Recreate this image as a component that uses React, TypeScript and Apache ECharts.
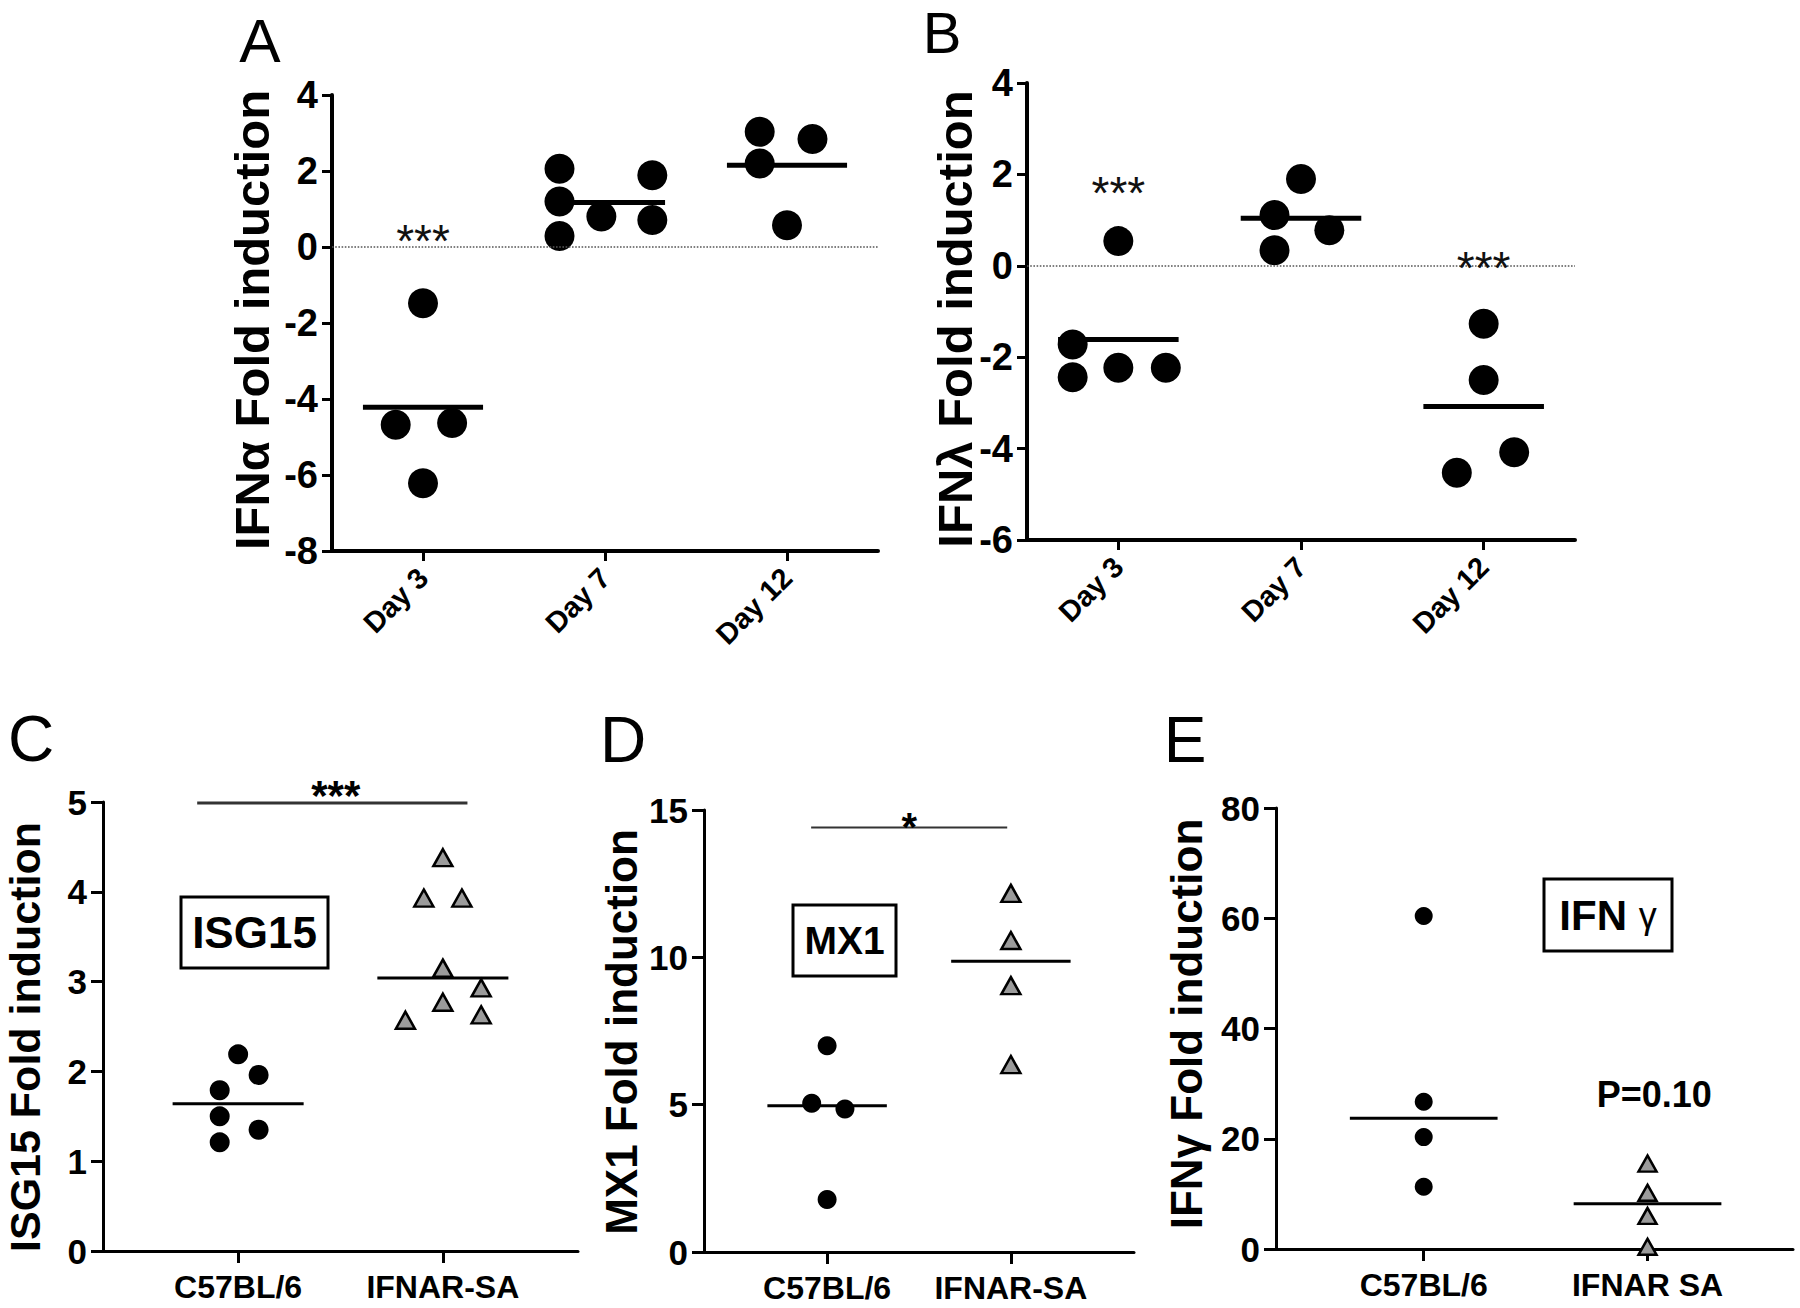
import React, { useEffect, useRef } from 'react';
import * as echarts from 'echarts';

// ---------- data ----------
const dayCategories = ['Day 3', 'Day 7', 'Day 12'];
const mouseGroups = ['C57BL/6', 'IFNAR-SA'];
const mouseGroupsE = ['C57BL/6', 'IFNAR SA'];

// Panel A: IFNα fold induction per day (points + horizontal jitter + mean line)
const ifnaValues = [
  [-1.48, -4.68, -4.63, -6.22],
  [2.06, 1.2, 0.29, 0.8, 1.89, 0.71],
  [3.03, 2.2, 2.84, 0.57],
];
const ifnaJitter = [
  [0, -0.15, 0.16, 0],
  [-0.25, -0.25, -0.25, -0.02, 0.26, 0.26],
  [-0.15, -0.15, 0.14, 0],
];
const ifnaMeans = [-4.22, 1.17, 2.15];
const ifnaStars = [[0, 0.43]];

// Panel B: IFNλ fold induction
const ifnlValues = [
  [0.54, -1.72, -2.44, -2.23, -2.23],
  [1.9, 1.11, 0.34, 0.78],
  [-1.27, -2.5, -4.08, -4.53],
];
const ifnlJitter = [
  [0, -0.25, -0.25, 0, 0.26],
  [0, -0.145, -0.145, 0.155],
  [0, 0, 0.167, -0.147],
];
const ifnlMeans = [-1.61, 1.04, -3.08];
const ifnlStars = [[0, 1.81], [2, 0.18]];

// Panel C: ISG15
const isg15Values = [
  [2.19, 1.96, 1.79, 1.5, 1.35, 1.21],
  [4.38, 3.93, 3.93, 3.15, 2.93, 2.77, 2.57, 2.63],
];
const isg15Jitter = [
  [0, 0.1, -0.09, -0.09, 0.1, -0.09],
  [0, -0.093, 0.093, 0, 0.187, 0, -0.183, 0.187],
];
const isg15Medians = [1.64, 3.04];
const isg15Bracket = [[-0.2, 1.12, 4.99]];
const isg15Stars = [[0.477, 5.18]];

// Panel D: MX1
const mx1Values = [
  [7.0, 5.05, 4.85, 1.78],
  [12.17, 10.57, 9.04, 6.36],
];
const mx1Jitter = [
  [0, -0.084, 0.097, 0],
  [0, 0, 0, 0],
];
const mx1Medians = [4.96, 9.87];
const mx1Bracket = [[-0.087, 0.98, 14.41]];
const mx1Stars = [[0.447, 14.74]];

// Panel E: IFNγ
const ifngValues = [
  [60.4, 26.7, 20.3, 11.3],
  [15.5, 10.2, 6.0, 0.4],
];
const ifngJitter = [
  [0, 0, 0, 0],
  [0, 0, 0, 0],
];
const ifngMedians = [23.7, 8.2];
const ifngPValue = [[1.03, 28.0]];

// ---------- helpers ----------
const FONT = '"Liberation Sans", Arial, Helvetica, sans-serif';

function toPoints(values: number[][], jitter: number[][]) {
  const out: number[][] = [];
  values.forEach((grp, i) => grp.forEach((v, j) => out.push([i + jitter[i][j], v])));
  return out;
}

function scatterSeries(gi: number, data: number[][], symbol: string, size: any, tri: boolean, extra: any = {}) {
  return {
    type: 'scatter',
    xAxisIndex: gi,
    yAxisIndex: gi,
    silent: true,
    z: 3,
    data,
    symbol,
    symbolSize: size,
    itemStyle: tri
      ? { color: '#9b9b9b', borderColor: '#000', borderWidth: 2.5, opacity: 1 }
      : { color: '#000', opacity: 1 },
    ...extra,
  };
}

function meanLineSeries(gi: number, means: number[], half: number, width: number) {
  return {
    type: 'custom',
    xAxisIndex: gi,
    yAxisIndex: gi,
    silent: true,
    z: 5,
    data: means.map((m, i) => [i, m]),
    encode: { x: 0, y: 1 },
    renderItem: (params: any, api: any) => {
      const x = api.value(0);
      const y = api.value(1);
      const a = api.coord([x - half, y]);
      const b = api.coord([x + half, y]);
      return {
        type: 'line',
        shape: { x1: a[0], y1: a[1], x2: b[0], y2: b[1] },
        style: { stroke: '#000', lineWidth: width },
      };
    },
  };
}

function bracketSeries(gi: number, rows: number[][], width: number) {
  return {
    type: 'custom',
    xAxisIndex: gi,
    yAxisIndex: gi,
    silent: true,
    z: 5,
    data: rows,
    encode: { x: [0, 1], y: 2 },
    renderItem: (params: any, api: any) => {
      const a = api.coord([api.value(0), api.value(2)]);
      const b = api.coord([api.value(1), api.value(2)]);
      return {
        type: 'line',
        shape: { x1: a[0], y1: a[1], x2: b[0], y2: b[1] },
        style: { stroke: '#333', lineWidth: width },
      };
    },
  };
}

function textSeries(gi: number, rows: number[][], text: string, font: string, dy: number, color = '#111') {
  return {
    type: 'custom',
    xAxisIndex: gi,
    yAxisIndex: gi,
    silent: true,
    z: 6,
    data: rows,
    encode: { x: 0, y: 1 },
    renderItem: (params: any, api: any) => {
      const p = api.coord([api.value(0), api.value(1)]);
      return {
        type: 'text',
        x: p[0],
        y: p[1] + dy,
        style: {
          text,
          font,
          fill: color,
          align: 'center',
          verticalAlign: 'middle',
          textAlign: 'center',
          textVerticalAlign: 'middle',
        },
      };
    },
  };
}

function xAxisDef(gi: number, min: number, max: number, labels: string[], big: boolean) {
  const vals = labels.map((_, i) => i);
  return {
    gridIndex: gi,
    type: 'value',
    min,
    max,
    splitLine: { show: false },
    axisLine: { show: true, onZero: false, lineStyle: { color: '#000', width: big ? 4 : 3 } },
    axisTick: {
      show: true,
      customValues: vals,
      length: big ? 10 : 12,
      lineStyle: { color: '#000', width: 3 },
    },
    axisLabel: {
      show: true,
      customValues: vals,
      formatter: (v: number) => labels[Math.round(v)] ?? '',
      rotate: big ? 45 : 0,
      fontSize: big ? 29 : 32,
      fontWeight: 'bold',
      fontFamily: FONT,
      color: '#000',
      margin: big ? 22 : 20,
    },
  };
}

function yAxisDef(gi: number, min: number, max: number, interval: number, big: boolean) {
  return {
    gridIndex: gi,
    type: 'value',
    min,
    max,
    interval,
    splitLine: { show: false },
    axisLine: { show: true, onZero: false, lineStyle: { color: '#000', width: big ? 4 : 3 } },
    axisTick: { show: true, length: big ? 10 : 12, lineStyle: { color: '#000', width: 3 } },
    axisLabel: {
      fontSize: big ? 38 : 35,
      fontWeight: 'bold',
      fontFamily: FONT,
      color: '#000',
      margin: big ? 14 : 16,
    },
  };
}

function rotTitle(x: number, y: number, text: string, size: number) {
  return {
    type: 'text',
    x,
    y,
    rotation: Math.PI / 2,
    silent: true,
    style: {
      text,
      font: `bold ${size}px ${FONT}`,
      fill: '#000',
      align: 'center',
      verticalAlign: 'middle',
      textAlign: 'center',
      textVerticalAlign: 'middle',
    },
  };
}

function letter(x: number, y: number, text: string, size: number) {
  return {
    type: 'text',
    x,
    y,
    silent: true,
    style: {
      text,
      font: `${size}px ${FONT}`,
      fill: '#000',
      align: 'center',
      verticalAlign: 'middle',
      textAlign: 'center',
      textVerticalAlign: 'middle',
    },
  };
}

function boxLabel(x: number, y: number, w: number, h: number, text: string, font: string, rich?: any) {
  return [
    {
      type: 'rect',
      silent: true,
      shape: { x, y, width: w, height: h },
      style: { fill: '#fff', stroke: '#000', lineWidth: 3 },
    },
    {
      type: 'text',
      silent: true,
      x: x + w / 2,
      y: y + h / 2,
      style: {
        text,
        font,
        fill: '#000',
        rich,
        align: 'center',
        verticalAlign: 'middle',
        textAlign: 'center',
        textVerticalAlign: 'middle',
      },
    },
  ];
}

export default function App() {
  const ref = useRef<HTMLDivElement>(null);

  useEffect(() => {
    if (!ref.current) return;
    const chart = echarts.init(ref.current, undefined, { renderer: 'svg' });

    const zeroLine = {
      silent: true,
      symbol: 'none',
      label: { show: false },
      lineStyle: { type: 'dotted', color: '#555', width: 1.6 },
      data: [{ yAxis: 0 }],
    };

    const option: any = {
      animation: false,
      backgroundColor: '#fff',
      textStyle: { fontFamily: FONT },
      grid: [
        { left: 332, top: 95, width: 546, height: 456, containLabel: false, outerBoundsMode: 'none' },
        { left: 1027, top: 83, width: 548, height: 457, containLabel: false, outerBoundsMode: 'none' },
        { left: 103, top: 802, width: 475, height: 449, containLabel: false, outerBoundsMode: 'none' },
        { left: 704, top: 810, width: 430, height: 442, containLabel: false, outerBoundsMode: 'none' },
        { left: 1276, top: 808, width: 517, height: 441, containLabel: false, outerBoundsMode: 'none' },
      ],
      xAxis: [
        xAxisDef(0, -0.5, 2.5, dayCategories, true),
        xAxisDef(1, -0.5, 2.5, dayCategories, true),
        xAxisDef(2, -0.66, 1.66, mouseGroups, false),
        xAxisDef(3, -0.67, 1.67, mouseGroups, false),
        xAxisDef(4, -0.66, 1.65, mouseGroupsE, false),
      ],
      yAxis: [
        yAxisDef(0, -8, 4, 2, true),
        yAxisDef(1, -6, 4, 2, true),
        yAxisDef(2, 0, 5, 1, false),
        yAxisDef(3, 0, 15, 5, false),
        yAxisDef(4, 0, 80, 20, false),
      ],
      series: [
        // A
        scatterSeries(0, toPoints(ifnaValues, ifnaJitter), 'circle', 30, false, { markLine: zeroLine }),
        meanLineSeries(0, ifnaMeans, 0.33, 5),
        textSeries(0, ifnaStars, '***', `46px ${FONT}`, 10),
        // B
        scatterSeries(1, toPoints(ifnlValues, ifnlJitter), 'circle', 30, false, { markLine: zeroLine }),
        meanLineSeries(1, ifnlMeans, 0.33, 5),
        textSeries(1, ifnlStars, '***', `46px ${FONT}`, 10),
        // C
        scatterSeries(2, toPoints([isg15Values[0]], [isg15Jitter[0]]), 'circle', 20, false),
        scatterSeries(
          2,
          toPoints([[], isg15Values[1]], [[], isg15Jitter[1]]),
          'triangle',
          [19, 17],
          true
        ),
        meanLineSeries(2, isg15Medians, 0.32, 3),
        bracketSeries(2, isg15Bracket, 3),
        textSeries(2, isg15Stars, '***', `bold 42px ${FONT}`, 10, '#000'),
        // D
        scatterSeries(3, toPoints([mx1Values[0]], [mx1Jitter[0]]), 'circle', 19, false),
        scatterSeries(3, toPoints([[], mx1Values[1]], [[], mx1Jitter[1]]), 'triangle', [19, 17], true),
        meanLineSeries(3, mx1Medians, 0.325, 3),
        bracketSeries(3, mx1Bracket, 2),
        textSeries(3, mx1Stars, '*', `bold 40px ${FONT}`, 9, '#000'),
        // E
        scatterSeries(4, toPoints([ifngValues[0]], [ifngJitter[0]]), 'circle', 18, false),
        scatterSeries(4, toPoints([[], ifngValues[1]], [[], ifngJitter[1]]), 'triangle', [18, 16], true),
        meanLineSeries(4, ifngMedians, 0.33, 3),
        textSeries(4, ifngPValue, 'P=0.10', `bold 36px ${FONT}`, 0, '#000'),
      ],
      graphic: [
        letter(260, 40, 'A', 62),
        letter(942, 32, 'B', 58),
        letter(31, 739, 'C', 64),
        letter(623, 740, 'D', 64),
        letter(1185, 740, 'E', 64),
        rotTitle(252, 320, 'IFNα Fold induction', 49),
        rotTitle(955, 319, 'IFNλ Fold induction', 49),
        rotTitle(25, 1037, 'ISG15 Fold induction', 43),
        rotTitle(621, 1032, 'MX1 Fold induction', 44),
        rotTitle(1186, 1024, 'IFNγ Fold induction', 44),
        ...boxLabel(181, 897, 147, 71, 'ISG15', `bold 44px ${FONT}`),
        ...boxLabel(793, 905, 103, 71, 'MX1', `bold 39px ${FONT}`),
        ...boxLabel(1544, 879, 128, 72, '{a|IFN} {g|γ}', `bold 42px ${FONT}`, {
          a: { font: `bold 42px ${FONT}`, fill: '#000' },
          g: { font: `36px ${FONT}`, fill: '#000' },
        }),
      ],
    };

    chart.setOption(option);
    return () => chart.dispose();
  }, []);

  return (
    <div
      ref={ref}
      style={{ position: 'absolute', left: 0, top: 0, width: 1800, height: 1308, background: '#fff' }}
    />
  );
}
